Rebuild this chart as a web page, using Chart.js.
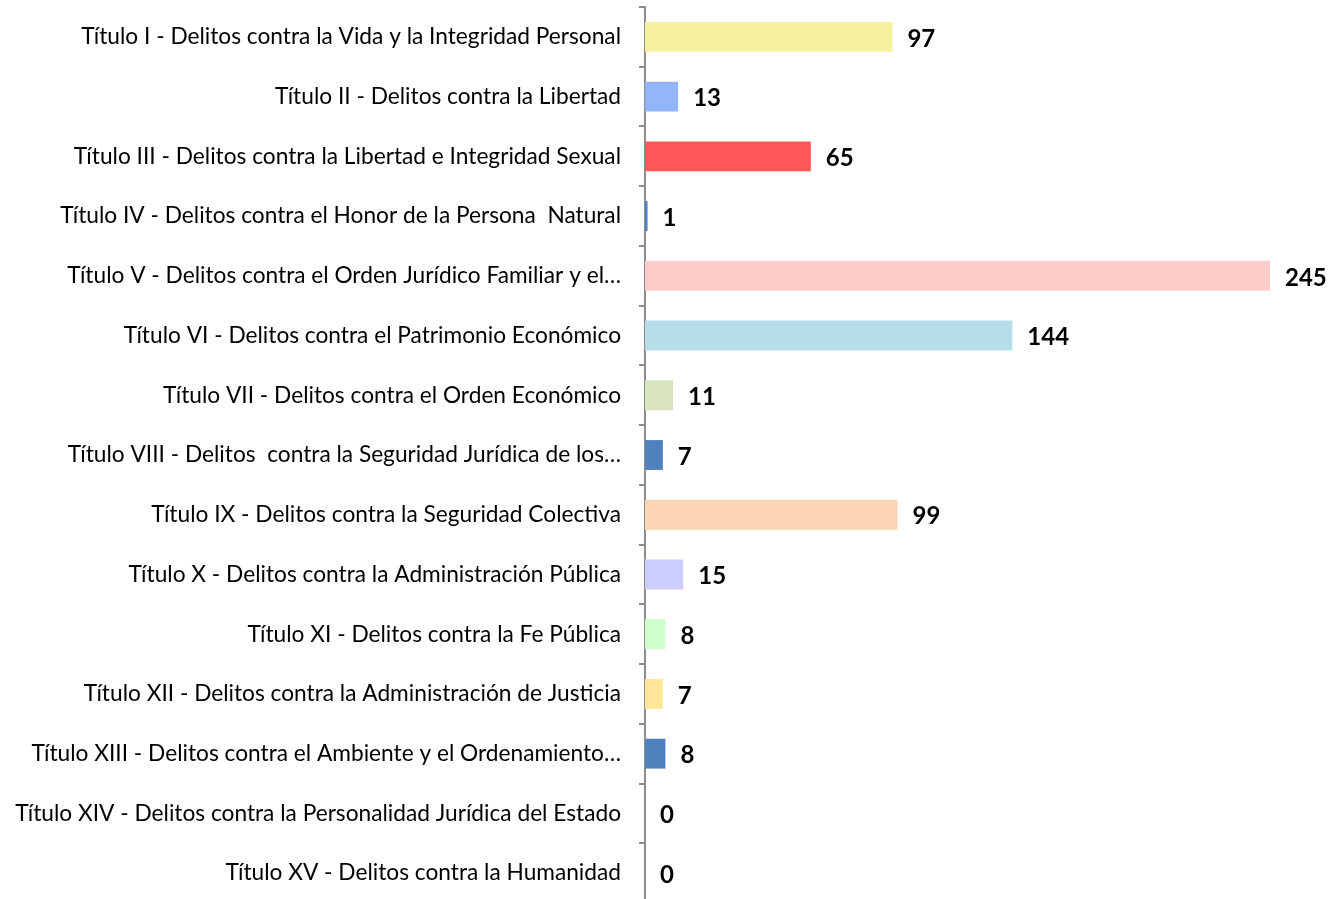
<!DOCTYPE html>
<html>
<head>
<meta charset="utf-8">
<script src="https://cdn.jsdelivr.net/npm/chart.js@4/dist/chart.umd.min.js"></script>
<style>
  html, body { margin:0; padding:0; background:#fff; overflow:hidden; }
</style>
</head>
<body>
<canvas id="chart" width="1332" height="903"></canvas>
<script>
// ===== DONNÉES =====
const titulos = [
  'Título I - Delitos contra la Vida y la Integridad Personal',
  'Título II - Delitos contra la Libertad',
  'Título III - Delitos contra la Libertad e Integridad Sexual',
  'Título IV - Delitos contra el Honor de la Persona  Natural',
  'Título V - Delitos contra el Orden Jurídico Familiar y el…',
  'Título VI - Delitos contra el Patrimonio Económico',
  'Título VII - Delitos contra el Orden Económico',
  'Título VIII - Delitos  contra la Seguridad Jurídica de los…',
  'Título IX - Delitos contra la Seguridad Colectiva',
  'Título X - Delitos contra la Administración Pública',
  'Título XI - Delitos contra la Fe Pública',
  'Título XII - Delitos contra la Administración de Justicia',
  'Título XIII - Delitos contra el Ambiente y el Ordenamiento…',
  'Título XIV - Delitos contra la Personalidad Jurídica del Estado',
  'Título XV - Delitos contra la Humanidad',
];
const casos = [97, 13, 65, 1, 245, 144, 11, 7, 99, 15, 8, 7, 8, 0, 0];
const colores = ['#F5F09B','#93B5F9','#FF5757','#4F81BD','#FFCCCC','#B7DEE8','#D7E4BD','#4F81BD',
                 '#FCD5B5','#CCCCFF','#CCFFCC','#FFE699','#4F81BD','#4F81BD','#4F81BD'];

const FONT = 'Lato, "Open Sans", sans-serif';

// taille de police ajustée pour que le libellé le plus long fasse ~607px
const mctx = document.createElement('canvas').getContext('2d');
mctx.font = '20px ' + FONT;
const maxW = Math.max(...titulos.map(t => mctx.measureText(t).width));
const labelSize = Math.round(20 * 607 / maxW * 10) / 10;

// étiquettes de valeur à droite des barres
const valueLabels = {
  id: 'valueLabels',
  afterDatasetsDraw(chart) {
    const ctx = chart.ctx;
    const meta = chart.getDatasetMeta(0);
    ctx.save();
    ctx.font = 'bold 24px ' + FONT;
    ctx.fillStyle = '#000';
    ctx.textAlign = 'left';
    ctx.textBaseline = 'middle';
    meta.data.forEach((bar, i) => {
      ctx.fillText(String(casos[i]), bar.x + 15, bar.y + 2);
    });
    ctx.restore();
  }
};

new Chart(document.getElementById('chart'), {
  type: 'bar',
  data: {
    labels: titulos,
    datasets: [{ data: casos, backgroundColor: colores, borderWidth: 0,
      barPercentage: 0.5, categoryPercentage: 1 }]
  },
  options: {
    indexAxis: 'y',
    responsive: false,
    animation: false,
    layout: { padding: { top: 7, right: 62, bottom: 0, left: 0 } },
    plugins: { legend: { display: false }, tooltip: { enabled: false } },
    scales: {
      x: { display: false, min: 0, max: 245 },
      y: {
        offset: true,
        grid: { offset: true, drawOnChartArea: false, tickLength: 6, color: '#8c8c8c', lineWidth: 2 },
        border: { color: '#8c8c8c', width: 2 },
        ticks: { color: '#000', font: { family: FONT, size: labelSize }, padding: 18, autoSkip: false },
        afterFit(scale) { scale.width = 645; scale.paddingTop = 0; scale.paddingBottom = 0; }
      }
    }
  },
  plugins: [valueLabels]
});
</script>
</body>
</html>
